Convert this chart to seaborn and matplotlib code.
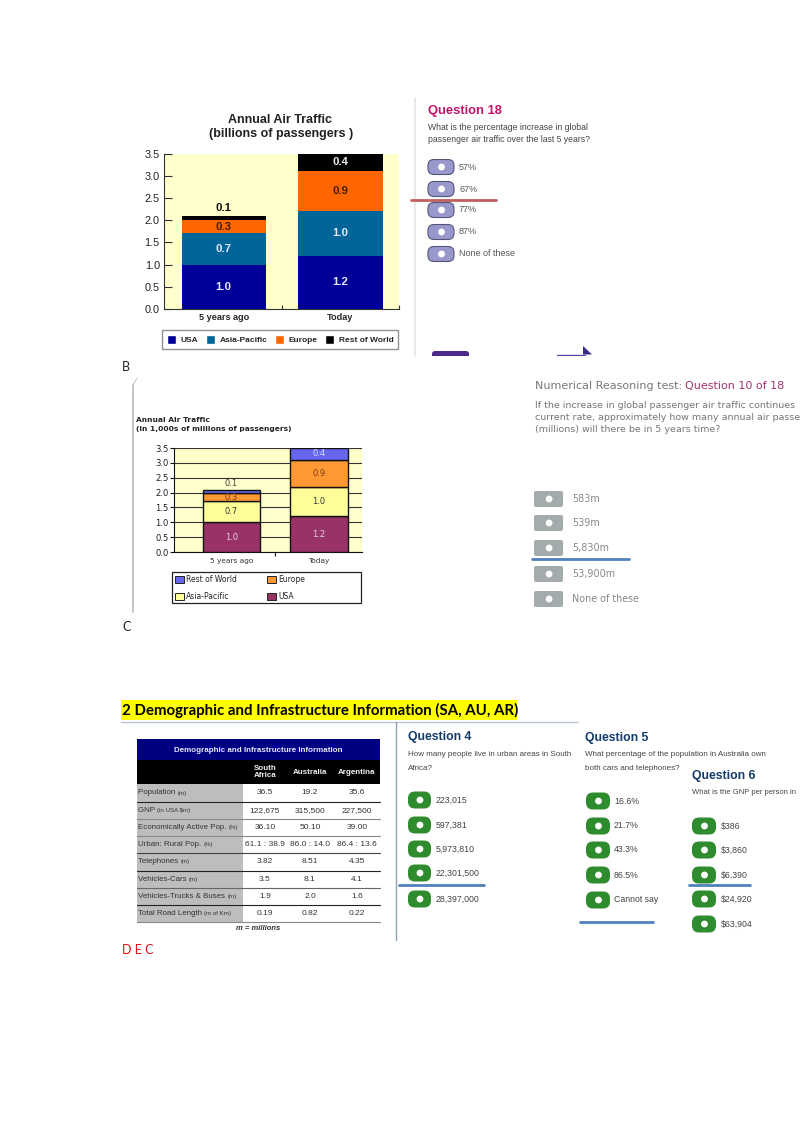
import pandas as pd
import matplotlib
matplotlib.use("Agg")
import matplotlib.pyplot as plt
from matplotlib.patches import FancyBboxPatch, Rectangle, Polygon, Patch
import seaborn as sns

W, H = 800, 1131

# chart values, billions of passengers
periods = ["5 years ago", "Today"]
usa = [1.0, 1.2]
asia_pacific = [0.7, 1.0]
europe = [0.3, 0.9]
rest_of_world = [0.1, 0.4]
series_names = ["USA", "Asia-Pacific", "Europe", "Rest of World"]
y_ticks = [0.0, 0.5, 1.0, 1.5, 2.0, 2.5, 3.0, 3.5]

# table values
table_columns = ["South\nAfrica", "Australia", "Argentina"]
table_rows = ["Population", "GNP", "Economically Active Pop.", "Urban: Rural Pop.",
              "Telephones", "Vehicles-Cars", "Vehicles-Trucks & Buses", "Total Road Length"]
table_units = ["(m)", "(in USA $m)", "(%)", "(%)", "(m)", "(m)", "(m)", "(m of Km)"]
south_africa = ["36.5", "122,675", "36.10", "61.1 : 38.9", "3.82", "3.5", "1.9", "0.19"]
australia = ["19.2", "315,500", "50.10", "86.0 : 14.0", "8.51", "8.1", "2.0", "0.82"]
argentina = ["35.6", "227,500", "39.00", "86.4 : 13.6", "4.35", "4.1", "1.6", "0.22"]

# question answers
q18_options = ["57%", "67%", "77%", "87%", "None of these"]
q10_options = ["583m", "539m", "5,830m", "53,900m", "None of these"]
q4_options = ["223,015", "597,381", "5,973,810", "22,301,500", "28,397,000"]
q5_options = ["16.6%", "21.7%", "43.3%", "86.5%", "Cannot say"]
q6_options = ["$386", "$3,860", "$6,390", "$24,920", "$63,904"]

sns.set_theme(style="white")
plt.rcParams["font.family"] = ["Liberation Sans", "DejaVu Sans"]

fig = plt.figure(figsize=(W / 100, H / 100), dpi=100, facecolor="white")

# page layer in pixel coordinates
page = fig.add_axes([0, 0, 1, 1], zorder=0)
page.set_xlim(0, W)
page.set_ylim(H, 0)
page.axis("off")


def px_axes(x0, y0, x1, y1):
    return fig.add_axes([x0 / W, 1 - y1 / H, (x1 - x0) / W, (y1 - y0) / H], zorder=2)


def stacked(ax, colors, width, edge, lw, xlim):
    frame = pd.DataFrame({"period": periods, "USA": usa, "Asia-Pacific": asia_pacific,
                          "Europe": europe, "Rest of World": rest_of_world})
    bottom = [0.0, 0.0]
    for name, color in zip(series_names, colors):
        sns.barplot(data=frame, x="period", y=name, order=periods, color=color, width=width,
                    bottom=bottom, saturation=1, edgecolor=edge, linewidth=lw, ax=ax, zorder=3)
        bottom = [b + v for b, v in zip(bottom, frame[name])]
    ax.set_xlim(*xlim)
    ax.set_ylim(0, 3.5)
    ax.set_yticks(y_ticks)
    ax.set_yticklabels([f"{t:.1f}" for t in y_ticks])
    ax.set_xlabel("")
    ax.set_ylabel("")


def button(x, y, w, h, face, dot="white", edge="none", rounding=7):
    page.add_patch(FancyBboxPatch((x + 2, y - h / 2 + 2), w - 4, h - 4,
                                  boxstyle=f"round,pad=2,rounding_size={rounding}",
                                  fc=face, ec=edge, lw=0.8, zorder=2))
    page.add_patch(plt.Circle((x + w * 0.52, y), 3.4, fc=dot, ec="none", zorder=3))


def options(labels, ys, x, w, h, tx, face, color, size, family, dot="white", edge="none", rounding=7):
    for label, y in zip(labels, ys):
        button(x, y, w, h, face, dot, edge, rounding)
        page.text(tx, y, label, color=color, fontsize=size, family=family, va="center", ha="left")


# first chart
ax1 = px_axes(164, 153.5, 399, 309)
ax1.set_facecolor("#FFFFCC")
colors1 = ["#000099", "#006699", "#FF6600", "#000000"]
stacked(ax1, colors1, 0.72, "none", 0, (-0.51, 1.5))
for side in ["top", "right"]:
    ax1.spines[side].set_visible(False)
for side in ["left", "bottom"]:
    ax1.spines[side].set_color("#333333")
    ax1.spines[side].set_linewidth(0.8)
ax1.tick_params(axis="y", direction="in", length=6, width=0.8, color="#333333", left=True,
                labelsize=7.8, labelcolor="#222222", pad=3)
ax1.set_xticks([0.5, 1.5], minor=True)
ax1.tick_params(axis="x", which="minor", direction="in", length=3, width=0.8, color="#333333", bottom=True)
ax1.tick_params(axis="x", which="major", length=0, labelsize=6.6, pad=3)
for label in ax1.get_xticklabels():
    label.set_fontweight("bold")
for i in range(2):
    running = 0.0
    for vals, col in zip([usa, asia_pacific, europe, rest_of_world],
                         ["#E8E8FF", "#E8E8FF", "#402000", "#E8E8E8"]):
        v = vals[i]
        y = running + v / 2
        if v < 0.2:
            y = running + v + 0.17
            col = "#111111"
        ax1.text(i, y, f"{v:.1f}", color=col, fontsize=8.2, fontweight="bold",
                 ha="center", va="center", zorder=5)
        running += v
page.text(280.5, 120, "Annual Air Traffic", fontsize=9, fontweight="bold", color="#222222", ha="center", va="center")
page.text(281.5, 134.5, "(billions of passengers )", fontsize=9, fontweight="bold", color="#222222", ha="center", va="center")
leg1 = ax1.legend(handles=[Patch(fc=c, label=n) for c, n in zip(colors1, series_names)],
                  ncol=4, loc="center", bbox_to_anchor=(0.494, -0.196), frameon=True, fancybox=False,
                  edgecolor="#777777", borderpad=0.55, handlelength=1.1, handleheight=1.3,
                  columnspacing=0.9, handletextpad=0.55, prop={"weight": "bold", "size": 6})
leg1.get_frame().set_linewidth(1.0)

# second chart
ax2 = px_axes(174, 448, 362, 552)
ax2.set_facecolor("#FFFFCC")
colors2 = ["#993366", "#FFFF99", "#FF9933", "#6666EE"]
stacked(ax2, colors2, 0.657, "#111111", 1.0, (-0.657, 1.491))
ax2.grid(axis="y", color="#333333", lw=0.8, zorder=1)
ax2.set_axisbelow(True)
for side in ["top", "right"]:
    ax2.spines[side].set_visible(False)
for side in ["left", "bottom"]:
    ax2.spines[side].set_color("#111111")
    ax2.spines[side].set_linewidth(0.8)
ax2.tick_params(axis="y", direction="out", length=3, width=0.8, color="#111111", left=True,
                labelsize=6.1, labelcolor="#222222", pad=1)
ax2.set_xticks([0.5], minor=True)
ax2.tick_params(axis="x", which="minor", direction="out", length=3, width=0.8, color="#111111", bottom=True)
ax2.tick_params(axis="x", which="major", length=0, labelsize=5.3, labelcolor="#333333", pad=4)
for label in ax2.get_xticklabels() + ax2.get_yticklabels():
    label.set_family("DejaVu Sans")
for i in range(2):
    running = 0.0
    for vals, col in zip([usa, asia_pacific, europe, rest_of_world],
                         ["#E6D0DD", "#333333", "#7A3A10", "#D8D8FF"]):
        v = vals[i]
        y = running + v / 2
        if v < 0.2:
            y = running + v + 0.2
            col = "#444444"
        ax2.text(i, y, f"{v:.1f}", color=col, fontsize=6, family="DejaVu Sans",
                 ha="center", va="center", zorder=5)
        running += v
page.text(136.5, 420, "Annual Air Traffic", fontsize=5.4, fontweight="bold", family="DejaVu Sans", color="#222222", va="center")
page.text(136.5, 429.5, "(in 1,000s of millions of passengers)", fontsize=5.4, fontweight="bold", family="DejaVu Sans", color="#222222", va="center")
page.add_patch(Rectangle((172, 572), 189, 31, fc="white", ec="#222222", lw=0.9))
leg_order = [3, 1, 2, 0]
leg2 = ax2.legend(handles=[Patch(fc=colors2[i], ec="#222222", lw=0.7, label=series_names[i]) for i in leg_order],
                  ncol=2, loc="upper left", bbox_to_anchor=(-0.01, -0.192), frameon=False,
                  borderpad=0.4, borderaxespad=0, handlelength=1.2, handleheight=1.1,
                  columnspacing=3.9, handletextpad=0.25, labelspacing=1.1,
                  prop={"family": "DejaVu Sans", "size": 5.5})
page.plot([133, 133], [385, 612], color="#BBBBBB", lw=1.2)
page.plot([133, 137], [385, 378], color="#CCCCCC", lw=0.8)

# question 18 panel
page.plot([414.5, 414.5], [98, 356], color="#E4E4E8", lw=1.2)
page.text(428, 111, "Question 18", color="#C2136A", fontsize=9.4, fontweight="bold", va="center")
page.text(428, 127, "What is the percentage increase in global", color="#444444", fontsize=6.2, va="center")
page.text(428, 139.5, "passenger air traffic over the last 5 years?", color="#444444", fontsize=6.2, va="center")
options(q18_options, [167, 189, 210, 232, 254], 428, 26, 15, 459, "#9898CC", "#555555", 6.5, "Liberation Sans",
        edge="#55557A", rounding=6)
page.plot([411, 496], [200, 200], color="#C0605C", lw=2, zorder=4)
page.add_patch(FancyBboxPatch((433, 352), 35, 6, boxstyle="round,pad=1,rounding_size=3", fc="#4B2A8C", ec="none"))
page.plot([557, 585], [354.5, 354.5], color="#5A4AA8", lw=1)
page.add_patch(Polygon([[583, 346], [592, 354.5], [583, 354.5]], fc="#3F2A8C", ec="none"))
page.add_patch(Rectangle((425, 355.5), 180, 12, fc="white", ec="none", zorder=4))

# question 10 panel
page.text(535, 386, "Numerical Reasoning test: ", color="#777777", fontsize=8, family="DejaVu Sans", va="center")
page.text(685, 386, "Question 10 of 18", color="#A0336E", fontsize=8, family="DejaVu Sans", va="center")
page.text(535, 405, "If the increase in global passenger air traffic continues", color="#777777", fontsize=6.8, family="DejaVu Sans", va="center")
page.text(535, 417, "current rate, approximately how many annual air passe", color="#777777", fontsize=6.8, family="DejaVu Sans", va="center")
page.text(535, 429, "(millions) will there be in 5 years time?", color="#777777", fontsize=6.8, family="DejaVu Sans", va="center")
options(q10_options, [499, 523, 548, 574, 599], 534, 29, 16, 572, "#A4ABAD", "#888888", 6.9, "DejaVu Sans", rounding=2)
page.plot([532, 629], [559, 559], color="#4F81BD", lw=2, zorder=4)

# section heading and captions
page.add_patch(Rectangle((121, 700), 396, 20, fc="#FFFF00", ec="none"))
page.text(122, 710, "2 Demographic and Infrastructure Information (SA, AU, AR)", fontsize=10.8, fontweight="bold",
          family="Lato", color="black", va="center")
page.plot([121, 578], [722, 722], color="#B8C4D4", lw=1)
page.plot([395.5, 395.5], [722, 940], color="#8FA0B8", lw=1)
page.text(122, 367, "B", fontsize=9, family="Lato", color="#222222", va="center")
page.text(122, 627, "C", fontsize=9, family="Lato", color="#222222", va="center")
page.text(122, 950, "D E C", fontsize=9, family="Lato", color="#E01010", va="center")

# table
tx0, tx1, gray_end = 137, 380, 243
page.add_patch(Rectangle((tx0, 739), tx1 - tx0, 21, fc="#000080", ec="none"))
page.add_patch(Rectangle((tx0, 760), tx1 - tx0, 24, fc="black", ec="none"))
page.add_patch(Rectangle((tx0, 784), gray_end - tx0, 138, fc="#BDBDBD", ec="none"))
page.text(258.5, 750, "Demographic and Infrastructure Information", color="#E8E8F8", fontsize=5.8,
          fontweight="bold", ha="center", va="center")
col_x = [265, 310, 357]
for x, name in zip(col_x, table_columns):
    page.text(x, 772, name, color="#F0F0F0", fontsize=5.8, fontweight="bold", ha="center", va="center", linespacing=1.1)
row_edges = [784, 802, 819, 836, 853, 870.5, 888, 905, 922]
rule_colors = ["#222222", "#888888", "#888888", "#444444", "#222222", "#666666", "#222222", "#888888"]
for r, (name, unit) in enumerate(zip(table_rows, table_units)):
    y = (row_edges[r] + row_edges[r + 1]) / 2
    ann = page.text(138, y, name + " ", color="#333333", fontsize=5.7, va="center")
    page.annotate(unit, xycoords=ann, xy=(1, 0.5), va="center", fontsize=4.4, color="#333333")
    for x, col in zip(col_x, [south_africa, australia, argentina]):
        page.text(x, y, col[r], color="#333333", fontsize=6, ha="center", va="center")
    page.plot([tx0, tx1], [row_edges[r + 1]] * 2, color=rule_colors[r], lw=0.8)
page.text(258, 928, "m = millions", color="#333333", fontsize=5.5, style="italic", fontweight="bold", ha="center", va="center")

# questions 4, 5 and 6
navy = "#123A6B"
green = "#2E8B2E"
page.text(408, 737, "Question 4", color=navy, fontsize=8.8, fontweight="bold", va="center")
page.text(408, 754, "How many people live in urban areas in South", color="#444444", fontsize=5.8, va="center")
page.text(408, 768, "Africa?", color="#444444", fontsize=5.8, va="center")
options(q4_options, [800, 825, 849, 873, 899], 408, 23, 17, 436, green, "#444444", 6.3, "Liberation Sans")
page.plot([399, 484], [885, 885], color="#4F81BD", lw=2, zorder=4)

page.text(585, 738, "Question 5", color=navy, fontsize=8.8, fontweight="bold", va="center")
page.text(585, 755, "What percentage of the population in Australia own", color="#444444", fontsize=5.8, va="center")
page.text(585, 769, "both cars and telephones?", color="#444444", fontsize=5.8, va="center")
options(q5_options, [801, 826, 850, 875, 900], 586, 24, 17, 614, green, "#444444", 6.3, "Liberation Sans")
page.plot([580, 653], [922, 922], color="#4F81BD", lw=2, zorder=4)

page.text(692, 776, "Question 6", color=navy, fontsize=8.8, fontweight="bold", va="center")
page.text(692, 793, "What is the GNP per person in", color="#444444", fontsize=5.5, va="center")
options(q6_options, [826, 850, 875, 899, 924], 692, 24, 17, 721, green, "#444444", 6.3, "Liberation Sans")
page.plot([689, 750], [885, 885], color="#4F81BD", lw=2, zorder=4)

fig.savefig("out.png", dpi=100)
